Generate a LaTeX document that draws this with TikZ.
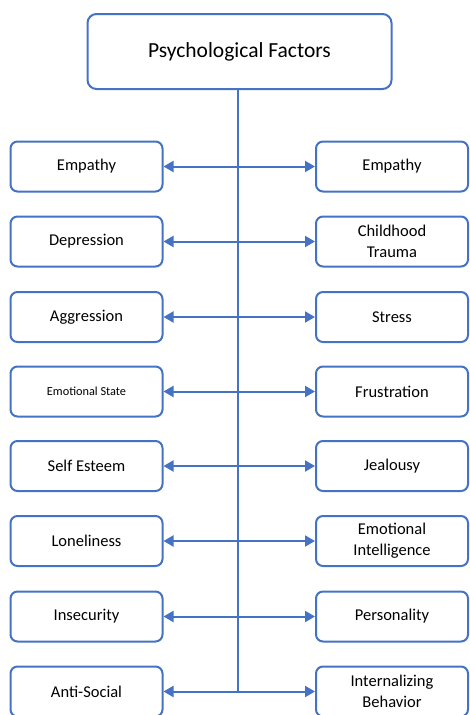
\documentclass[tikz,border=0pt]{standalone}
\usepackage{fontspec}
\setmainfont{Carlito}
\usetikzlibrary{arrows.meta}
\definecolor{boxblue}{HTML}{4472C4}
\tikzset{
  every node/.style={inner sep=0pt},
  factorbox/.style={draw=boxblue, line width=2pt, rounded corners=7pt, fill=white,
    minimum width=152pt, minimum height=50pt, align=center, font=\fontsize{16.5}{21}\selectfont},
  titlebox/.style={draw=boxblue, line width=2pt, rounded corners=9pt, fill=white,
    minimum width=304pt, minimum height=75pt, font=\fontsize{21.5}{26}\selectfont},
  link/.style={draw=boxblue, line width=2pt, {Triangle[length=10pt,width=11pt]}-{Triangle[length=10pt,width=11pt]}},
  trunk/.style={draw=boxblue, line width=2pt}
}
\begin{document}
\begin{tikzpicture}[x=1pt,y=-1pt]
\useasboundingbox (0,0) rectangle (470,715);
\node[titlebox] (top) at (239.5,51.5) {Psychological Factors};
\coordinate (trunkend) at (238,691.5);
\draw[trunk] (top.south -| trunkend) -- (trunkend);
% left column
\node[factorbox] (l1) at (86.5,166.5) {Empathy};
\node[factorbox] (l2) at (86.5,241.5) {Depression};
\node[factorbox] (l3) at (86.5,317) {Aggression};
\node[factorbox, font=\fontsize{12.3}{15}\selectfont] (l4) at (86.5,391.5) {Emotional State};
\node[factorbox] (l5) at (86.5,466) {Self Esteem};
\node[factorbox] (l6) at (86.5,541) {Loneliness};
\node[factorbox] (l7) at (86.5,616.5) {Insecurity};
\node[factorbox] (l8) at (86.5,691.5) {Anti-Social};
% right column
\node[factorbox] (r1) at (392,166.5) {Empathy};
\node[factorbox] (r2) at (392,241.5) {Childhood\\Trauma};
\node[factorbox] (r3) at (392,317) {Stress};
\node[factorbox] (r4) at (392,391.5) {Frustration};
\node[factorbox] (r5) at (392,466) {Jealousy};
\node[factorbox] (r6) at (392,541) {Emotional\\Intelligence};
\node[factorbox] (r7) at (392,616.5) {Personality};
\node[factorbox] (r8) at (392,691.5) {Internalizing\\Behavior};
\foreach \i in {1,...,8} {
  \draw[link] (l\i.east) -- (r\i.west);
}
\end{tikzpicture}
\end{document}
